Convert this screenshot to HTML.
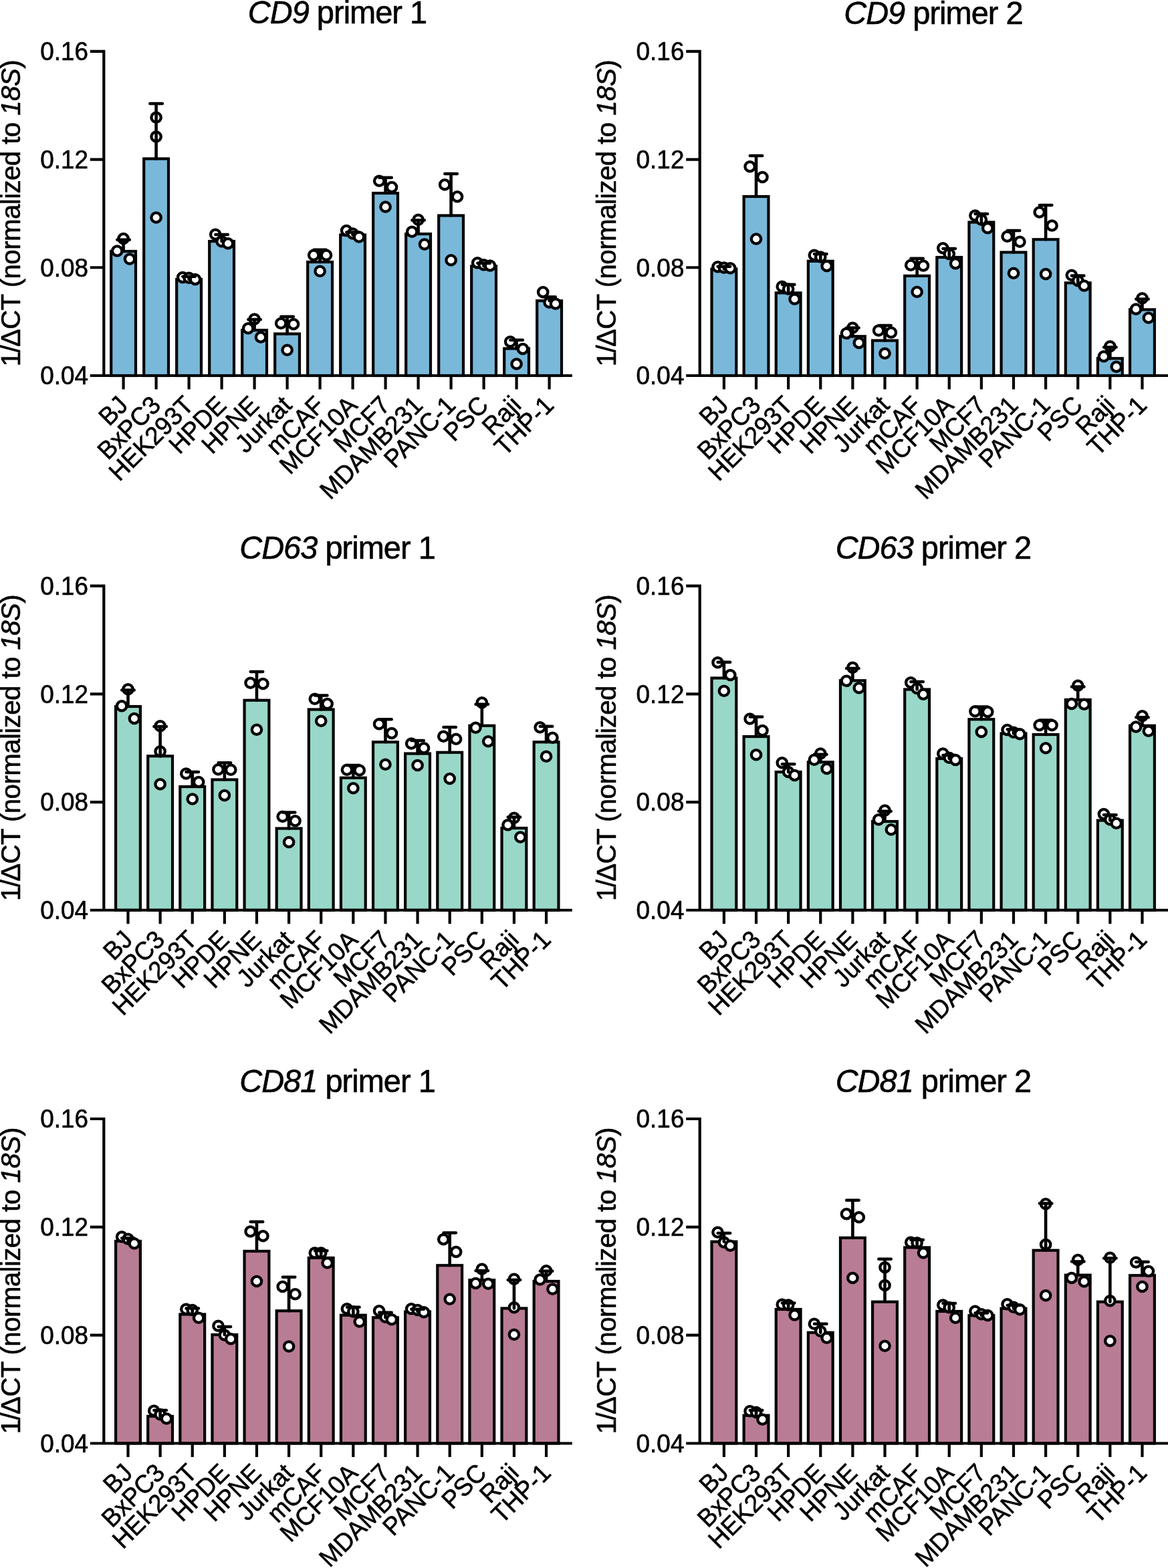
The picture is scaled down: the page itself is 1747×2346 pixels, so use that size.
<!DOCTYPE html>
<html lang="en"><head><meta charset="utf-8"><title>Tetraspanin qPCR</title>
<style>html,body{margin:0;padding:0;background:#fff}svg{display:block}text{font-family:"Liberation Sans",Arial,Helvetica,sans-serif;fill:#000;stroke:#000;stroke-width:0.6px;stroke-linejoin:round}.t{font-size:47px;letter-spacing:-1.0px}.k{font-size:36.9px}.y{font-size:40.3px;letter-spacing:-0.6px}.x{font-size:36.9px}.a{stroke:#000;stroke-width:4.2;fill:none;stroke-linecap:butt}.p{stroke:#000;stroke-width:4.3;fill:#fff}.e{stroke:#000;stroke-width:4.6;fill:none;stroke-linecap:round}</style></head><body>
<svg xmlns="http://www.w3.org/2000/svg" width="1747" height="2346" viewBox="0 0 1747 2346">
<rect width="1747" height="2346" fill="#fff"/>
<g>
<text class="t" transform="translate(504.5 34.7) scale(1 1.04)" text-anchor="middle"><tspan font-style="italic">CD9</tspan> primer 1</text>
<text class="y" transform="translate(29.9 90) rotate(-90) scale(1 1.0)" text-anchor="end">1<tspan dx="-1">/</tspan><tspan dx="-2.1">Δ</tspan>CT (normalized to <tspan font-style="italic">18S</tspan>)</text>
<rect x="166.2" y="376" width="36.8" height="186" fill="#7ab8da" stroke="#000" stroke-width="4.2"/>
<circle class="p" cx="184.6" cy="357" r="7.2"/>
<circle class="p" cx="175.2" cy="375.5" r="7.2"/>
<circle class="p" cx="194" cy="387.5" r="7.2"/>
<path class="e" d="M184.6 376V358.75M175.4 358.75H193.8"/>
<rect x="215.2" y="237.5" width="36.8" height="324.5" fill="#7ab8da" stroke="#000" stroke-width="4.2"/>
<circle class="p" cx="233.6" cy="175.75" r="7.2"/>
<circle class="p" cx="233.6" cy="204.5" r="7.2"/>
<circle class="p" cx="233.6" cy="325.5" r="7.2"/>
<path class="e" d="M233.6 237.5V155M224.4 155H242.8"/>
<rect x="264.2" y="418" width="36.8" height="144" fill="#7ab8da" stroke="#000" stroke-width="4.2"/>
<circle class="p" cx="273.2" cy="415" r="7.2"/>
<circle class="p" cx="282.6" cy="415.75" r="7.2"/>
<circle class="p" cx="292" cy="418" r="7.2"/>
<path class="e" d="M282.6 418V413.75M273.4 413.75H291.8"/>
<rect x="313.2" y="361" width="36.8" height="201" fill="#7ab8da" stroke="#000" stroke-width="4.2"/>
<circle class="p" cx="322.2" cy="350.75" r="7.2"/>
<circle class="p" cx="331.6" cy="361.25" r="7.2"/>
<circle class="p" cx="341" cy="364.25" r="7.2"/>
<path class="e" d="M331.6 361V351M322.4 351H340.8"/>
<rect x="362.2" y="494" width="36.8" height="68" fill="#7ab8da" stroke="#000" stroke-width="4.2"/>
<circle class="p" cx="380.6" cy="477.5" r="7.2"/>
<circle class="p" cx="371.2" cy="491.25" r="7.2"/>
<circle class="p" cx="390" cy="504.5" r="7.2"/>
<path class="e" d="M380.6 494V478M371.4 478H389.8"/>
<rect x="411.2" y="499.5" width="36.8" height="62.5" fill="#7ab8da" stroke="#000" stroke-width="4.2"/>
<circle class="p" cx="420.2" cy="483.75" r="7.2"/>
<circle class="p" cx="439" cy="485" r="7.2"/>
<circle class="p" cx="429.6" cy="523.75" r="7.2"/>
<path class="e" d="M429.6 499.5V473.75M420.4 473.75H438.8"/>
<rect x="460.2" y="392" width="36.8" height="170" fill="#7ab8da" stroke="#000" stroke-width="4.2"/>
<circle class="p" cx="469.2" cy="381.75" r="7.2"/>
<circle class="p" cx="488" cy="381.75" r="7.2"/>
<circle class="p" cx="478.6" cy="405.75" r="7.2"/>
<path class="e" d="M478.6 392V373.75M469.4 373.75H487.8"/>
<rect x="509.2" y="351.5" width="36.8" height="210.5" fill="#7ab8da" stroke="#000" stroke-width="4.2"/>
<circle class="p" cx="518.2" cy="345" r="7.2"/>
<circle class="p" cx="527.6" cy="349.5" r="7.2"/>
<circle class="p" cx="537" cy="354.5" r="7.2"/>
<path class="e" d="M527.6 351.5V347.5M518.4 347.5H536.8"/>
<rect x="558.2" y="289" width="36.8" height="273" fill="#7ab8da" stroke="#000" stroke-width="4.2"/>
<circle class="p" cx="567.2" cy="270.75" r="7.2"/>
<circle class="p" cx="586" cy="280" r="7.2"/>
<circle class="p" cx="576.6" cy="309.5" r="7.2"/>
<path class="e" d="M576.6 289V265.75M567.4 265.75H585.8"/>
<rect x="607.2" y="350" width="36.8" height="212" fill="#7ab8da" stroke="#000" stroke-width="4.2"/>
<circle class="p" cx="625.6" cy="328.75" r="7.2"/>
<circle class="p" cx="616.2" cy="346.75" r="7.2"/>
<circle class="p" cx="635" cy="365.5" r="7.2"/>
<path class="e" d="M625.6 350V329.5M616.4 329.5H634.8"/>
<rect x="656.2" y="322.5" width="36.8" height="239.5" fill="#7ab8da" stroke="#000" stroke-width="4.2"/>
<circle class="p" cx="665.2" cy="276.25" r="7.2"/>
<circle class="p" cx="684" cy="294.25" r="7.2"/>
<circle class="p" cx="674.6" cy="389.25" r="7.2"/>
<path class="e" d="M674.6 322.5V260M665.4 260H683.8"/>
<rect x="705.2" y="398.25" width="36.8" height="163.75" fill="#7ab8da" stroke="#000" stroke-width="4.2"/>
<circle class="p" cx="714.2" cy="393.25" r="7.2"/>
<circle class="p" cx="723.6" cy="396.25" r="7.2"/>
<circle class="p" cx="733" cy="397.5" r="7.2"/>
<path class="e" d="M723.6 398.25V393.75M714.4 393.75H732.8"/>
<rect x="754.2" y="521.5" width="36.8" height="40.5" fill="#7ab8da" stroke="#000" stroke-width="4.2"/>
<circle class="p" cx="763.2" cy="511.25" r="7.2"/>
<circle class="p" cx="782" cy="522" r="7.2"/>
<circle class="p" cx="772.6" cy="544.5" r="7.2"/>
<path class="e" d="M772.6 521.5V508.75M763.4 508.75H781.8"/>
<rect x="803.2" y="450" width="36.8" height="112" fill="#7ab8da" stroke="#000" stroke-width="4.2"/>
<circle class="p" cx="812.2" cy="437" r="7.2"/>
<circle class="p" cx="821.6" cy="452.5" r="7.2"/>
<circle class="p" cx="831" cy="454.5" r="7.2"/>
<path class="e" d="M821.6 450V444.25M812.4 444.25H830.8"/>
<path class="a" d="M155.3 74.7V564.1M134.8 562H855.8M134.8 76.8H155.3M134.8 238.53H155.3M134.8 400.27H155.3M184.6 562V582.5M233.6 562V582.5M282.6 562V582.5M331.6 562V582.5M380.6 562V582.5M429.6 562V582.5M478.6 562V582.5M527.6 562V582.5M576.6 562V582.5M625.6 562V582.5M674.6 562V582.5M723.6 562V582.5M772.6 562V582.5M821.6 562V582.5"/>
<text class="k" transform="translate(132 90.1) scale(1 1.03)" text-anchor="end">0.16</text>
<text class="k" transform="translate(132 251.83) scale(1 1.03)" text-anchor="end">0.12</text>
<text class="k" transform="translate(132 413.57) scale(1 1.03)" text-anchor="end">0.08</text>
<text class="k" transform="translate(132 575.3) scale(1 1.03)" text-anchor="end">0.04</text>
<text class="x" transform="translate(193.6 608.5) rotate(-45) scale(1 1.03)" text-anchor="end">BJ</text>
<text class="x" transform="translate(242.6 608.5) rotate(-45) scale(1 1.03)" text-anchor="end">BxPC3</text>
<text class="x" transform="translate(291.6 608.5) rotate(-45) scale(1 1.03)" text-anchor="end">HEK293T</text>
<text class="x" transform="translate(340.6 608.5) rotate(-45) scale(1 1.03)" text-anchor="end">HPDE</text>
<text class="x" transform="translate(389.6 608.5) rotate(-45) scale(1 1.03)" text-anchor="end">HPNE</text>
<text class="x" transform="translate(438.6 608.5) rotate(-45) scale(1 1.03)" text-anchor="end">Jurkat</text>
<text class="x" transform="translate(487.6 608.5) rotate(-45) scale(1 1.03)" text-anchor="end">mCAF</text>
<text class="x" transform="translate(536.6 608.5) rotate(-45) scale(1 1.03)" text-anchor="end">MCF10A</text>
<text class="x" transform="translate(585.6 608.5) rotate(-45) scale(1 1.03)" text-anchor="end">MCF7</text>
<text class="x" transform="translate(634.6 608.5) rotate(-45) scale(1 1.03)" text-anchor="end">MDAMB231</text>
<text class="x" transform="translate(683.6 608.5) rotate(-45) scale(1 1.03)" text-anchor="end">PANC-1</text>
<text class="x" transform="translate(732.6 608.5) rotate(-45) scale(1 1.03)" text-anchor="end">PSC</text>
<text class="x" transform="translate(781.6 608.5) rotate(-45) scale(1 1.03)" text-anchor="end">Raji</text>
<text class="x" transform="translate(830.6 608.5) rotate(-45) scale(1 1.03)" text-anchor="end">THP-1</text>
</g>
<g>
<text class="t" transform="translate(1395.9 36.4) scale(1 1.04)" text-anchor="middle"><tspan font-style="italic">CD9</tspan> primer 2</text>
<text class="y" transform="translate(921.3 90) rotate(-90) scale(1 1.0)" text-anchor="end">1<tspan dx="-1">/</tspan><tspan dx="-2.1">Δ</tspan>CT (normalized to <tspan font-style="italic">18S</tspan>)</text>
<rect x="1064.5" y="402.5" width="36.8" height="159.5" fill="#7ab8da" stroke="#000" stroke-width="4.2"/>
<circle class="p" cx="1073.5" cy="399.25" r="7.2"/>
<circle class="p" cx="1082.9" cy="400.5" r="7.2"/>
<circle class="p" cx="1092.3" cy="401.25" r="7.2"/>
<path class="e" d="M1082.9 402.5V398.75M1073.7 398.75H1092.1"/>
<rect x="1112.62" y="294" width="36.8" height="268" fill="#7ab8da" stroke="#000" stroke-width="4.2"/>
<circle class="p" cx="1121.62" cy="249.25" r="7.2"/>
<circle class="p" cx="1140.42" cy="265" r="7.2"/>
<circle class="p" cx="1131.02" cy="357.5" r="7.2"/>
<path class="e" d="M1131.02 294V233M1121.82 233H1140.22"/>
<rect x="1160.74" y="438.25" width="36.8" height="123.75" fill="#7ab8da" stroke="#000" stroke-width="4.2"/>
<circle class="p" cx="1169.74" cy="428.75" r="7.2"/>
<circle class="p" cx="1179.14" cy="432.5" r="7.2"/>
<circle class="p" cx="1188.54" cy="447.5" r="7.2"/>
<path class="e" d="M1179.14 438.25V425.75M1169.94 425.75H1188.34"/>
<rect x="1208.86" y="390.75" width="36.8" height="171.25" fill="#7ab8da" stroke="#000" stroke-width="4.2"/>
<circle class="p" cx="1217.86" cy="381.75" r="7.2"/>
<circle class="p" cx="1227.26" cy="384.5" r="7.2"/>
<circle class="p" cx="1236.66" cy="398" r="7.2"/>
<path class="e" d="M1227.26 390.75V380M1218.06 380H1236.46"/>
<rect x="1256.98" y="503.25" width="36.8" height="58.75" fill="#7ab8da" stroke="#000" stroke-width="4.2"/>
<circle class="p" cx="1275.38" cy="490.5" r="7.2"/>
<circle class="p" cx="1265.98" cy="498.75" r="7.2"/>
<circle class="p" cx="1284.78" cy="513" r="7.2"/>
<path class="e" d="M1275.38 503.25V490.5M1266.18 490.5H1284.58"/>
<rect x="1305.1" y="509.5" width="36.8" height="52.5" fill="#7ab8da" stroke="#000" stroke-width="4.2"/>
<circle class="p" cx="1314.1" cy="494.5" r="7.2"/>
<circle class="p" cx="1332.9" cy="497.5" r="7.2"/>
<circle class="p" cx="1323.5" cy="528.75" r="7.2"/>
<path class="e" d="M1323.5 509.5V487M1314.3 487H1332.7"/>
<rect x="1353.22" y="412.75" width="36.8" height="149.25" fill="#7ab8da" stroke="#000" stroke-width="4.2"/>
<circle class="p" cx="1362.22" cy="396.75" r="7.2"/>
<circle class="p" cx="1381.02" cy="397.5" r="7.2"/>
<circle class="p" cx="1371.62" cy="436.75" r="7.2"/>
<path class="e" d="M1371.62 412.75V386.75M1362.42 386.75H1380.82"/>
<rect x="1401.34" y="385" width="36.8" height="177" fill="#7ab8da" stroke="#000" stroke-width="4.2"/>
<circle class="p" cx="1410.34" cy="371.25" r="7.2"/>
<circle class="p" cx="1419.74" cy="380" r="7.2"/>
<circle class="p" cx="1429.14" cy="394.25" r="7.2"/>
<path class="e" d="M1419.74 385V372M1410.54 372H1428.94"/>
<rect x="1449.46" y="332.5" width="36.8" height="229.5" fill="#7ab8da" stroke="#000" stroke-width="4.2"/>
<circle class="p" cx="1458.46" cy="322.5" r="7.2"/>
<circle class="p" cx="1467.86" cy="328.75" r="7.2"/>
<circle class="p" cx="1477.26" cy="341.25" r="7.2"/>
<path class="e" d="M1467.86 332.5V320M1458.66 320H1477.06"/>
<rect x="1497.58" y="377.5" width="36.8" height="184.5" fill="#7ab8da" stroke="#000" stroke-width="4.2"/>
<circle class="p" cx="1506.58" cy="353.75" r="7.2"/>
<circle class="p" cx="1525.38" cy="361.75" r="7.2"/>
<circle class="p" cx="1515.98" cy="408.75" r="7.2"/>
<path class="e" d="M1515.98 377.5V345M1506.78 345H1525.18"/>
<rect x="1545.7" y="358.25" width="36.8" height="203.75" fill="#7ab8da" stroke="#000" stroke-width="4.2"/>
<circle class="p" cx="1554.7" cy="317.5" r="7.2"/>
<circle class="p" cx="1573.5" cy="337.5" r="7.2"/>
<circle class="p" cx="1564.1" cy="410" r="7.2"/>
<path class="e" d="M1564.1 358.25V307M1554.9 307H1573.3"/>
<rect x="1593.82" y="423.25" width="36.8" height="138.75" fill="#7ab8da" stroke="#000" stroke-width="4.2"/>
<circle class="p" cx="1602.82" cy="411.75" r="7.2"/>
<circle class="p" cx="1612.22" cy="420" r="7.2"/>
<circle class="p" cx="1621.62" cy="427.5" r="7.2"/>
<path class="e" d="M1612.22 423.25V412.5M1603.02 412.5H1621.42"/>
<rect x="1641.94" y="536.25" width="36.8" height="25.75" fill="#7ab8da" stroke="#000" stroke-width="4.2"/>
<circle class="p" cx="1660.34" cy="518.25" r="7.2"/>
<circle class="p" cx="1650.94" cy="533.25" r="7.2"/>
<circle class="p" cx="1669.74" cy="548.75" r="7.2"/>
<path class="e" d="M1660.34 536.25V519.5M1651.14 519.5H1669.54"/>
<rect x="1690.06" y="463.25" width="36.8" height="98.75" fill="#7ab8da" stroke="#000" stroke-width="4.2"/>
<circle class="p" cx="1708.46" cy="446.25" r="7.2"/>
<circle class="p" cx="1699.06" cy="462.5" r="7.2"/>
<circle class="p" cx="1717.86" cy="475.5" r="7.2"/>
<path class="e" d="M1708.46 463.25V447.5M1699.26 447.5H1717.66"/>
<path class="a" d="M1046.7 74.7V564.1M1026.2 562H1747.2M1026.2 76.8H1046.7M1026.2 238.53H1046.7M1026.2 400.27H1046.7M1082.9 562V582.5M1131.02 562V582.5M1179.14 562V582.5M1227.26 562V582.5M1275.38 562V582.5M1323.5 562V582.5M1371.62 562V582.5M1419.74 562V582.5M1467.86 562V582.5M1515.98 562V582.5M1564.1 562V582.5M1612.22 562V582.5M1660.34 562V582.5M1708.46 562V582.5"/>
<text class="k" transform="translate(1023.4 90.1) scale(1 1.03)" text-anchor="end">0.16</text>
<text class="k" transform="translate(1023.4 251.83) scale(1 1.03)" text-anchor="end">0.12</text>
<text class="k" transform="translate(1023.4 413.57) scale(1 1.03)" text-anchor="end">0.08</text>
<text class="k" transform="translate(1023.4 575.3) scale(1 1.03)" text-anchor="end">0.04</text>
<text class="x" transform="translate(1091.9 608.5) rotate(-45) scale(1 1.03)" text-anchor="end">BJ</text>
<text class="x" transform="translate(1140.02 608.5) rotate(-45) scale(1 1.03)" text-anchor="end">BxPC3</text>
<text class="x" transform="translate(1188.14 608.5) rotate(-45) scale(1 1.03)" text-anchor="end">HEK293T</text>
<text class="x" transform="translate(1236.26 608.5) rotate(-45) scale(1 1.03)" text-anchor="end">HPDE</text>
<text class="x" transform="translate(1284.38 608.5) rotate(-45) scale(1 1.03)" text-anchor="end">HPNE</text>
<text class="x" transform="translate(1332.5 608.5) rotate(-45) scale(1 1.03)" text-anchor="end">Jurkat</text>
<text class="x" transform="translate(1380.62 608.5) rotate(-45) scale(1 1.03)" text-anchor="end">mCAF</text>
<text class="x" transform="translate(1428.74 608.5) rotate(-45) scale(1 1.03)" text-anchor="end">MCF10A</text>
<text class="x" transform="translate(1476.86 608.5) rotate(-45) scale(1 1.03)" text-anchor="end">MCF7</text>
<text class="x" transform="translate(1524.98 608.5) rotate(-45) scale(1 1.03)" text-anchor="end">MDAMB231</text>
<text class="x" transform="translate(1573.1 608.5) rotate(-45) scale(1 1.03)" text-anchor="end">PANC-1</text>
<text class="x" transform="translate(1621.22 608.5) rotate(-45) scale(1 1.03)" text-anchor="end">PSC</text>
<text class="x" transform="translate(1669.34 608.5) rotate(-45) scale(1 1.03)" text-anchor="end">Raji</text>
<text class="x" transform="translate(1717.46 608.5) rotate(-45) scale(1 1.03)" text-anchor="end">THP-1</text>
</g>
<g>
<text class="t" transform="translate(504.5 836.4) scale(1 1.04)" text-anchor="middle"><tspan font-style="italic">CD63</tspan> primer 1</text>
<text class="y" transform="translate(29.9 889.8) rotate(-90) scale(1 1.0)" text-anchor="end">1<tspan dx="-1">/</tspan><tspan dx="-2.1">Δ</tspan>CT (normalized to <tspan font-style="italic">18S</tspan>)</text>
<rect x="173.1" y="1057" width="36.8" height="304.75" fill="#99d8c9" stroke="#000" stroke-width="4.2"/>
<circle class="p" cx="191.5" cy="1031.25" r="7.2"/>
<circle class="p" cx="182.1" cy="1056.25" r="7.2"/>
<circle class="p" cx="200.9" cy="1075" r="7.2"/>
<path class="e" d="M191.5 1057V1032.5M182.3 1032.5H200.7"/>
<rect x="221.22" y="1131.25" width="36.8" height="230.5" fill="#99d8c9" stroke="#000" stroke-width="4.2"/>
<circle class="p" cx="239.62" cy="1086.25" r="7.2"/>
<circle class="p" cx="239.62" cy="1124.25" r="7.2"/>
<circle class="p" cx="239.62" cy="1173.25" r="7.2"/>
<path class="e" d="M239.62 1131.25V1087M230.42 1087H248.82"/>
<rect x="269.34" y="1177" width="36.8" height="184.75" fill="#99d8c9" stroke="#000" stroke-width="4.2"/>
<circle class="p" cx="278.34" cy="1157.5" r="7.2"/>
<circle class="p" cx="297.14" cy="1170" r="7.2"/>
<circle class="p" cx="287.74" cy="1195.5" r="7.2"/>
<path class="e" d="M287.74 1177V1155M278.54 1155H296.94"/>
<rect x="317.46" y="1166.5" width="36.8" height="195.25" fill="#99d8c9" stroke="#000" stroke-width="4.2"/>
<circle class="p" cx="326.46" cy="1151.25" r="7.2"/>
<circle class="p" cx="345.26" cy="1151.75" r="7.2"/>
<circle class="p" cx="335.86" cy="1190" r="7.2"/>
<path class="e" d="M335.86 1166.5V1141.25M326.66 1141.25H345.06"/>
<rect x="365.58" y="1047.75" width="36.8" height="314" fill="#99d8c9" stroke="#000" stroke-width="4.2"/>
<circle class="p" cx="374.58" cy="1021.75" r="7.2"/>
<circle class="p" cx="393.38" cy="1023" r="7.2"/>
<circle class="p" cx="383.98" cy="1091.75" r="7.2"/>
<path class="e" d="M383.98 1047.75V1005M374.78 1005H393.18"/>
<rect x="413.7" y="1239.5" width="36.8" height="122.25" fill="#99d8c9" stroke="#000" stroke-width="4.2"/>
<circle class="p" cx="422.7" cy="1221.75" r="7.2"/>
<circle class="p" cx="441.5" cy="1228.25" r="7.2"/>
<circle class="p" cx="432.1" cy="1260" r="7.2"/>
<path class="e" d="M432.1 1239.5V1215.5M422.9 1215.5H441.3"/>
<rect x="461.82" y="1061.5" width="36.8" height="300.25" fill="#99d8c9" stroke="#000" stroke-width="4.2"/>
<circle class="p" cx="470.82" cy="1045.75" r="7.2"/>
<circle class="p" cx="489.62" cy="1053" r="7.2"/>
<circle class="p" cx="480.22" cy="1078.75" r="7.2"/>
<path class="e" d="M480.22 1061.5V1040.5M471.02 1040.5H489.42"/>
<rect x="509.94" y="1163.75" width="36.8" height="198" fill="#99d8c9" stroke="#000" stroke-width="4.2"/>
<circle class="p" cx="518.94" cy="1151.75" r="7.2"/>
<circle class="p" cx="537.74" cy="1152.5" r="7.2"/>
<circle class="p" cx="528.34" cy="1179.25" r="7.2"/>
<path class="e" d="M528.34 1163.75V1145M519.14 1145H537.54"/>
<rect x="558.06" y="1110.25" width="36.8" height="251.5" fill="#99d8c9" stroke="#000" stroke-width="4.2"/>
<circle class="p" cx="567.06" cy="1083.25" r="7.2"/>
<circle class="p" cx="585.86" cy="1097" r="7.2"/>
<circle class="p" cx="576.46" cy="1143.75" r="7.2"/>
<path class="e" d="M576.46 1110.25V1076.25M567.26 1076.25H585.66"/>
<rect x="606.18" y="1127.5" width="36.8" height="234.25" fill="#99d8c9" stroke="#000" stroke-width="4.2"/>
<circle class="p" cx="615.18" cy="1112.5" r="7.2"/>
<circle class="p" cx="633.98" cy="1119.25" r="7.2"/>
<circle class="p" cx="624.58" cy="1145" r="7.2"/>
<path class="e" d="M624.58 1127.5V1108M615.38 1108H633.78"/>
<rect x="654.3" y="1125.75" width="36.8" height="236" fill="#99d8c9" stroke="#000" stroke-width="4.2"/>
<circle class="p" cx="663.3" cy="1101.75" r="7.2"/>
<circle class="p" cx="682.1" cy="1105.75" r="7.2"/>
<circle class="p" cx="672.7" cy="1165" r="7.2"/>
<path class="e" d="M672.7 1125.75V1088M663.5 1088H681.9"/>
<rect x="702.42" y="1085.75" width="36.8" height="276" fill="#99d8c9" stroke="#000" stroke-width="4.2"/>
<circle class="p" cx="720.82" cy="1051.25" r="7.2"/>
<circle class="p" cx="711.42" cy="1088.75" r="7.2"/>
<circle class="p" cx="730.22" cy="1109.25" r="7.2"/>
<path class="e" d="M720.82 1085.75V1053.75M711.62 1053.75H730.02"/>
<rect x="750.54" y="1239" width="36.8" height="122.75" fill="#99d8c9" stroke="#000" stroke-width="4.2"/>
<circle class="p" cx="768.94" cy="1223.75" r="7.2"/>
<circle class="p" cx="759.54" cy="1234.25" r="7.2"/>
<circle class="p" cx="778.34" cy="1252.5" r="7.2"/>
<path class="e" d="M768.94 1239V1222.5M759.74 1222.5H778.14"/>
<rect x="798.66" y="1110.25" width="36.8" height="251.5" fill="#99d8c9" stroke="#000" stroke-width="4.2"/>
<circle class="p" cx="807.66" cy="1088.25" r="7.2"/>
<circle class="p" cx="826.46" cy="1103.75" r="7.2"/>
<circle class="p" cx="817.06" cy="1131.75" r="7.2"/>
<path class="e" d="M817.06 1110.25V1086.75M807.86 1086.75H826.26"/>
<path class="a" d="M155.3 874.5V1363.85M134.8 1361.75H855.8M134.8 876.6H155.3M134.8 1038.32H155.3M134.8 1200.03H155.3M191.5 1361.75V1382.25M239.62 1361.75V1382.25M287.74 1361.75V1382.25M335.86 1361.75V1382.25M383.98 1361.75V1382.25M432.1 1361.75V1382.25M480.22 1361.75V1382.25M528.34 1361.75V1382.25M576.46 1361.75V1382.25M624.58 1361.75V1382.25M672.7 1361.75V1382.25M720.82 1361.75V1382.25M768.94 1361.75V1382.25M817.06 1361.75V1382.25"/>
<text class="k" transform="translate(132 889.9) scale(1 1.03)" text-anchor="end">0.16</text>
<text class="k" transform="translate(132 1051.62) scale(1 1.03)" text-anchor="end">0.12</text>
<text class="k" transform="translate(132 1213.33) scale(1 1.03)" text-anchor="end">0.08</text>
<text class="k" transform="translate(132 1375.05) scale(1 1.03)" text-anchor="end">0.04</text>
<text class="x" transform="translate(200.5 1408.25) rotate(-45) scale(1 1.03)" text-anchor="end">BJ</text>
<text class="x" transform="translate(248.62 1408.25) rotate(-45) scale(1 1.03)" text-anchor="end">BxPC3</text>
<text class="x" transform="translate(296.74 1408.25) rotate(-45) scale(1 1.03)" text-anchor="end">HEK293T</text>
<text class="x" transform="translate(344.86 1408.25) rotate(-45) scale(1 1.03)" text-anchor="end">HPDE</text>
<text class="x" transform="translate(392.98 1408.25) rotate(-45) scale(1 1.03)" text-anchor="end">HPNE</text>
<text class="x" transform="translate(441.1 1408.25) rotate(-45) scale(1 1.03)" text-anchor="end">Jurkat</text>
<text class="x" transform="translate(489.22 1408.25) rotate(-45) scale(1 1.03)" text-anchor="end">mCAF</text>
<text class="x" transform="translate(537.34 1408.25) rotate(-45) scale(1 1.03)" text-anchor="end">MCF10A</text>
<text class="x" transform="translate(585.46 1408.25) rotate(-45) scale(1 1.03)" text-anchor="end">MCF7</text>
<text class="x" transform="translate(633.58 1408.25) rotate(-45) scale(1 1.03)" text-anchor="end">MDAMB231</text>
<text class="x" transform="translate(681.7 1408.25) rotate(-45) scale(1 1.03)" text-anchor="end">PANC-1</text>
<text class="x" transform="translate(729.82 1408.25) rotate(-45) scale(1 1.03)" text-anchor="end">PSC</text>
<text class="x" transform="translate(777.94 1408.25) rotate(-45) scale(1 1.03)" text-anchor="end">Raji</text>
<text class="x" transform="translate(826.06 1408.25) rotate(-45) scale(1 1.03)" text-anchor="end">THP-1</text>
</g>
<g>
<text class="t" transform="translate(1395.9 836.4) scale(1 1.04)" text-anchor="middle"><tspan font-style="italic">CD63</tspan> primer 2</text>
<text class="y" transform="translate(921.3 889.8) rotate(-90) scale(1 1.0)" text-anchor="end">1<tspan dx="-1">/</tspan><tspan dx="-2.1">Δ</tspan>CT (normalized to <tspan font-style="italic">18S</tspan>)</text>
<rect x="1064.5" y="1014.5" width="36.8" height="347.25" fill="#99d8c9" stroke="#000" stroke-width="4.2"/>
<circle class="p" cx="1073.5" cy="991.25" r="7.2"/>
<circle class="p" cx="1092.3" cy="1010" r="7.2"/>
<circle class="p" cx="1082.9" cy="1033.75" r="7.2"/>
<path class="e" d="M1082.9 1014.5V990.75M1073.7 990.75H1092.1"/>
<rect x="1112.62" y="1102" width="36.8" height="259.75" fill="#99d8c9" stroke="#000" stroke-width="4.2"/>
<circle class="p" cx="1121.62" cy="1075.5" r="7.2"/>
<circle class="p" cx="1140.42" cy="1093" r="7.2"/>
<circle class="p" cx="1131.02" cy="1129.25" r="7.2"/>
<path class="e" d="M1131.02 1102V1072.5M1121.82 1072.5H1140.22"/>
<rect x="1160.74" y="1155" width="36.8" height="206.75" fill="#99d8c9" stroke="#000" stroke-width="4.2"/>
<circle class="p" cx="1169.74" cy="1141.25" r="7.2"/>
<circle class="p" cx="1179.14" cy="1155" r="7.2"/>
<circle class="p" cx="1188.54" cy="1160" r="7.2"/>
<path class="e" d="M1179.14 1155V1143.25M1169.94 1143.25H1188.34"/>
<rect x="1208.86" y="1140.25" width="36.8" height="221.5" fill="#99d8c9" stroke="#000" stroke-width="4.2"/>
<circle class="p" cx="1227.26" cy="1127.5" r="7.2"/>
<circle class="p" cx="1217.86" cy="1136.75" r="7.2"/>
<circle class="p" cx="1236.66" cy="1150" r="7.2"/>
<path class="e" d="M1227.26 1140.25V1128.75M1218.06 1128.75H1236.46"/>
<rect x="1256.98" y="1018.25" width="36.8" height="343.5" fill="#99d8c9" stroke="#000" stroke-width="4.2"/>
<circle class="p" cx="1275.38" cy="998.75" r="7.2"/>
<circle class="p" cx="1265.98" cy="1018.75" r="7.2"/>
<circle class="p" cx="1284.78" cy="1029.25" r="7.2"/>
<path class="e" d="M1275.38 1018.25V1000M1266.18 1000H1284.58"/>
<rect x="1305.1" y="1229" width="36.8" height="132.75" fill="#99d8c9" stroke="#000" stroke-width="4.2"/>
<circle class="p" cx="1323.5" cy="1212.5" r="7.2"/>
<circle class="p" cx="1314.1" cy="1226.25" r="7.2"/>
<circle class="p" cx="1332.9" cy="1241.25" r="7.2"/>
<path class="e" d="M1323.5 1229V1213.75M1314.3 1213.75H1332.7"/>
<rect x="1353.22" y="1031.5" width="36.8" height="330.25" fill="#99d8c9" stroke="#000" stroke-width="4.2"/>
<circle class="p" cx="1362.22" cy="1021.25" r="7.2"/>
<circle class="p" cx="1371.62" cy="1030" r="7.2"/>
<circle class="p" cx="1381.02" cy="1038.75" r="7.2"/>
<path class="e" d="M1371.62 1031.5V1020M1362.42 1020H1380.82"/>
<rect x="1401.34" y="1135" width="36.8" height="226.75" fill="#99d8c9" stroke="#000" stroke-width="4.2"/>
<circle class="p" cx="1410.34" cy="1127.5" r="7.2"/>
<circle class="p" cx="1419.74" cy="1133.75" r="7.2"/>
<circle class="p" cx="1429.14" cy="1137" r="7.2"/>
<path class="e" d="M1419.74 1135V1130M1410.54 1130H1428.94"/>
<rect x="1449.46" y="1076.25" width="36.8" height="285.5" fill="#99d8c9" stroke="#000" stroke-width="4.2"/>
<circle class="p" cx="1458.46" cy="1064.25" r="7.2"/>
<circle class="p" cx="1477.26" cy="1065" r="7.2"/>
<circle class="p" cx="1467.86" cy="1095" r="7.2"/>
<path class="e" d="M1467.86 1076.25V1057.5M1458.66 1057.5H1477.06"/>
<rect x="1497.58" y="1097.5" width="36.8" height="264.25" fill="#99d8c9" stroke="#000" stroke-width="4.2"/>
<circle class="p" cx="1506.58" cy="1092" r="7.2"/>
<circle class="p" cx="1515.98" cy="1095.75" r="7.2"/>
<circle class="p" cx="1525.38" cy="1098.25" r="7.2"/>
<path class="e" d="M1515.98 1097.5V1091.25M1506.78 1091.25H1525.18"/>
<rect x="1545.7" y="1099" width="36.8" height="262.75" fill="#99d8c9" stroke="#000" stroke-width="4.2"/>
<circle class="p" cx="1554.7" cy="1085" r="7.2"/>
<circle class="p" cx="1573.5" cy="1085" r="7.2"/>
<circle class="p" cx="1564.1" cy="1119.25" r="7.2"/>
<path class="e" d="M1564.1 1099V1077.5M1554.9 1077.5H1573.3"/>
<rect x="1593.82" y="1047" width="36.8" height="314.75" fill="#99d8c9" stroke="#000" stroke-width="4.2"/>
<circle class="p" cx="1612.22" cy="1025.75" r="7.2"/>
<circle class="p" cx="1602.82" cy="1053" r="7.2"/>
<circle class="p" cx="1621.62" cy="1053.75" r="7.2"/>
<path class="e" d="M1612.22 1047V1027.5M1603.02 1027.5H1621.42"/>
<rect x="1641.94" y="1227.5" width="36.8" height="134.25" fill="#99d8c9" stroke="#000" stroke-width="4.2"/>
<circle class="p" cx="1650.94" cy="1218" r="7.2"/>
<circle class="p" cx="1660.34" cy="1226.25" r="7.2"/>
<circle class="p" cx="1669.74" cy="1231.75" r="7.2"/>
<path class="e" d="M1660.34 1227.5V1219.25M1651.14 1219.25H1669.54"/>
<rect x="1690.06" y="1085.75" width="36.8" height="276" fill="#99d8c9" stroke="#000" stroke-width="4.2"/>
<circle class="p" cx="1708.46" cy="1071.25" r="7.2"/>
<circle class="p" cx="1699.06" cy="1087.5" r="7.2"/>
<circle class="p" cx="1717.86" cy="1093.75" r="7.2"/>
<path class="e" d="M1708.46 1085.75V1073.25M1699.26 1073.25H1717.66"/>
<path class="a" d="M1046.7 874.5V1363.85M1026.2 1361.75H1747.2M1026.2 876.6H1046.7M1026.2 1038.32H1046.7M1026.2 1200.03H1046.7M1082.9 1361.75V1382.25M1131.02 1361.75V1382.25M1179.14 1361.75V1382.25M1227.26 1361.75V1382.25M1275.38 1361.75V1382.25M1323.5 1361.75V1382.25M1371.62 1361.75V1382.25M1419.74 1361.75V1382.25M1467.86 1361.75V1382.25M1515.98 1361.75V1382.25M1564.1 1361.75V1382.25M1612.22 1361.75V1382.25M1660.34 1361.75V1382.25M1708.46 1361.75V1382.25"/>
<text class="k" transform="translate(1023.4 889.9) scale(1 1.03)" text-anchor="end">0.16</text>
<text class="k" transform="translate(1023.4 1051.62) scale(1 1.03)" text-anchor="end">0.12</text>
<text class="k" transform="translate(1023.4 1213.33) scale(1 1.03)" text-anchor="end">0.08</text>
<text class="k" transform="translate(1023.4 1375.05) scale(1 1.03)" text-anchor="end">0.04</text>
<text class="x" transform="translate(1091.9 1408.25) rotate(-45) scale(1 1.03)" text-anchor="end">BJ</text>
<text class="x" transform="translate(1140.02 1408.25) rotate(-45) scale(1 1.03)" text-anchor="end">BxPC3</text>
<text class="x" transform="translate(1188.14 1408.25) rotate(-45) scale(1 1.03)" text-anchor="end">HEK293T</text>
<text class="x" transform="translate(1236.26 1408.25) rotate(-45) scale(1 1.03)" text-anchor="end">HPDE</text>
<text class="x" transform="translate(1284.38 1408.25) rotate(-45) scale(1 1.03)" text-anchor="end">HPNE</text>
<text class="x" transform="translate(1332.5 1408.25) rotate(-45) scale(1 1.03)" text-anchor="end">Jurkat</text>
<text class="x" transform="translate(1380.62 1408.25) rotate(-45) scale(1 1.03)" text-anchor="end">mCAF</text>
<text class="x" transform="translate(1428.74 1408.25) rotate(-45) scale(1 1.03)" text-anchor="end">MCF10A</text>
<text class="x" transform="translate(1476.86 1408.25) rotate(-45) scale(1 1.03)" text-anchor="end">MCF7</text>
<text class="x" transform="translate(1524.98 1408.25) rotate(-45) scale(1 1.03)" text-anchor="end">MDAMB231</text>
<text class="x" transform="translate(1573.1 1408.25) rotate(-45) scale(1 1.03)" text-anchor="end">PANC-1</text>
<text class="x" transform="translate(1621.22 1408.25) rotate(-45) scale(1 1.03)" text-anchor="end">PSC</text>
<text class="x" transform="translate(1669.34 1408.25) rotate(-45) scale(1 1.03)" text-anchor="end">Raji</text>
<text class="x" transform="translate(1717.46 1408.25) rotate(-45) scale(1 1.03)" text-anchor="end">THP-1</text>
</g>
<g>
<text class="t" transform="translate(504.5 1633.8) scale(1 1.04)" text-anchor="middle"><tspan font-style="italic">CD81</tspan> primer 1</text>
<text class="y" transform="translate(29.9 1687.2) rotate(-90) scale(1 1.0)" text-anchor="end">1<tspan dx="-1">/</tspan><tspan dx="-2.1">Δ</tspan>CT (normalized to <tspan font-style="italic">18S</tspan>)</text>
<rect x="173.1" y="1857" width="36.8" height="302.5" fill="#b97c95" stroke="#000" stroke-width="4.2"/>
<circle class="p" cx="182.1" cy="1850.5" r="7.2"/>
<circle class="p" cx="191.5" cy="1853.75" r="7.2"/>
<circle class="p" cx="200.9" cy="1860.5" r="7.2"/>
<path class="e" d="M191.5 1857V1852.5M182.3 1852.5H200.7"/>
<rect x="221.22" y="2119" width="36.8" height="40.5" fill="#b97c95" stroke="#000" stroke-width="4.2"/>
<circle class="p" cx="230.22" cy="2110.75" r="7.2"/>
<circle class="p" cx="239.62" cy="2116.25" r="7.2"/>
<circle class="p" cx="249.02" cy="2122.5" r="7.2"/>
<path class="e" d="M239.62 2119V2110M230.42 2110H248.82"/>
<rect x="269.34" y="1966.5" width="36.8" height="193" fill="#b97c95" stroke="#000" stroke-width="4.2"/>
<circle class="p" cx="278.34" cy="1958.75" r="7.2"/>
<circle class="p" cx="287.74" cy="1960" r="7.2"/>
<circle class="p" cx="297.14" cy="1971.75" r="7.2"/>
<path class="e" d="M287.74 1966.5V1957.5M278.54 1957.5H296.94"/>
<rect x="317.46" y="1997" width="36.8" height="162.5" fill="#b97c95" stroke="#000" stroke-width="4.2"/>
<circle class="p" cx="326.46" cy="1983.75" r="7.2"/>
<circle class="p" cx="335.86" cy="1997.5" r="7.2"/>
<circle class="p" cx="345.26" cy="2003.25" r="7.2"/>
<path class="e" d="M335.86 1997V1985M326.66 1985H345.06"/>
<rect x="365.58" y="1872" width="36.8" height="287.5" fill="#b97c95" stroke="#000" stroke-width="4.2"/>
<circle class="p" cx="374.58" cy="1842.5" r="7.2"/>
<circle class="p" cx="393.38" cy="1849.25" r="7.2"/>
<circle class="p" cx="383.98" cy="1917" r="7.2"/>
<path class="e" d="M383.98 1872V1828M374.78 1828H393.18"/>
<rect x="413.7" y="1961.25" width="36.8" height="198.25" fill="#b97c95" stroke="#000" stroke-width="4.2"/>
<circle class="p" cx="422.7" cy="1925" r="7.2"/>
<circle class="p" cx="441.5" cy="1936.25" r="7.2"/>
<circle class="p" cx="432.1" cy="2014.5" r="7.2"/>
<path class="e" d="M432.1 1961.25V1910.75M422.9 1910.75H441.3"/>
<rect x="461.82" y="1882" width="36.8" height="277.5" fill="#b97c95" stroke="#000" stroke-width="4.2"/>
<circle class="p" cx="470.82" cy="1874.5" r="7.2"/>
<circle class="p" cx="480.22" cy="1874.5" r="7.2"/>
<circle class="p" cx="489.62" cy="1889.5" r="7.2"/>
<path class="e" d="M480.22 1882V1871.25M471.02 1871.25H489.42"/>
<rect x="509.94" y="1967.75" width="36.8" height="191.75" fill="#b97c95" stroke="#000" stroke-width="4.2"/>
<circle class="p" cx="518.94" cy="1958.25" r="7.2"/>
<circle class="p" cx="528.34" cy="1962.5" r="7.2"/>
<circle class="p" cx="537.74" cy="1977.5" r="7.2"/>
<path class="e" d="M528.34 1967.75V1955.75M519.14 1955.75H537.54"/>
<rect x="558.06" y="1971.25" width="36.8" height="188.25" fill="#b97c95" stroke="#000" stroke-width="4.2"/>
<circle class="p" cx="567.06" cy="1961.25" r="7.2"/>
<circle class="p" cx="576.46" cy="1970.75" r="7.2"/>
<circle class="p" cx="585.86" cy="1974.25" r="7.2"/>
<path class="e" d="M576.46 1971.25V1963.75M567.26 1963.75H585.66"/>
<rect x="606.18" y="1962.5" width="36.8" height="197" fill="#b97c95" stroke="#000" stroke-width="4.2"/>
<circle class="p" cx="615.18" cy="1958.25" r="7.2"/>
<circle class="p" cx="624.58" cy="1960" r="7.2"/>
<circle class="p" cx="633.98" cy="1963.25" r="7.2"/>
<path class="e" d="M624.58 1962.5V1958.75M615.38 1958.75H633.78"/>
<rect x="654.3" y="1893.25" width="36.8" height="266.25" fill="#b97c95" stroke="#000" stroke-width="4.2"/>
<circle class="p" cx="663.3" cy="1854.25" r="7.2"/>
<circle class="p" cx="682.1" cy="1873" r="7.2"/>
<circle class="p" cx="672.7" cy="1943.75" r="7.2"/>
<path class="e" d="M672.7 1893.25V1844.5M663.5 1844.5H681.9"/>
<rect x="702.42" y="1915.25" width="36.8" height="244.25" fill="#b97c95" stroke="#000" stroke-width="4.2"/>
<circle class="p" cx="720.82" cy="1898.75" r="7.2"/>
<circle class="p" cx="711.42" cy="1920" r="7.2"/>
<circle class="p" cx="730.22" cy="1920.75" r="7.2"/>
<path class="e" d="M720.82 1915.25V1901.25M711.62 1901.25H730.02"/>
<rect x="750.54" y="1957.5" width="36.8" height="202" fill="#b97c95" stroke="#000" stroke-width="4.2"/>
<circle class="p" cx="768.94" cy="1913.75" r="7.2"/>
<circle class="p" cx="768.94" cy="1956.25" r="7.2"/>
<circle class="p" cx="768.94" cy="1996.75" r="7.2"/>
<path class="e" d="M768.94 1957.5V1915M759.74 1915H778.14"/>
<rect x="798.66" y="1917" width="36.8" height="242.5" fill="#b97c95" stroke="#000" stroke-width="4.2"/>
<circle class="p" cx="817.06" cy="1901.25" r="7.2"/>
<circle class="p" cx="807.66" cy="1914.5" r="7.2"/>
<circle class="p" cx="826.46" cy="1928.75" r="7.2"/>
<path class="e" d="M817.06 1917V1901.75M807.86 1901.75H826.26"/>
<path class="a" d="M155.3 1671.9V2161.6M134.8 2159.5H855.8M134.8 1674H155.3M134.8 1835.83H155.3M134.8 1997.67H155.3M191.5 2159.5V2180M239.62 2159.5V2180M287.74 2159.5V2180M335.86 2159.5V2180M383.98 2159.5V2180M432.1 2159.5V2180M480.22 2159.5V2180M528.34 2159.5V2180M576.46 2159.5V2180M624.58 2159.5V2180M672.7 2159.5V2180M720.82 2159.5V2180M768.94 2159.5V2180M817.06 2159.5V2180"/>
<text class="k" transform="translate(132 1687.3) scale(1 1.03)" text-anchor="end">0.16</text>
<text class="k" transform="translate(132 1849.13) scale(1 1.03)" text-anchor="end">0.12</text>
<text class="k" transform="translate(132 2010.97) scale(1 1.03)" text-anchor="end">0.08</text>
<text class="k" transform="translate(132 2172.8) scale(1 1.03)" text-anchor="end">0.04</text>
<text class="x" transform="translate(200.5 2206) rotate(-45) scale(1 1.03)" text-anchor="end">BJ</text>
<text class="x" transform="translate(248.62 2206) rotate(-45) scale(1 1.03)" text-anchor="end">BxPC3</text>
<text class="x" transform="translate(296.74 2206) rotate(-45) scale(1 1.03)" text-anchor="end">HEK293T</text>
<text class="x" transform="translate(344.86 2206) rotate(-45) scale(1 1.03)" text-anchor="end">HPDE</text>
<text class="x" transform="translate(392.98 2206) rotate(-45) scale(1 1.03)" text-anchor="end">HPNE</text>
<text class="x" transform="translate(441.1 2206) rotate(-45) scale(1 1.03)" text-anchor="end">Jurkat</text>
<text class="x" transform="translate(489.22 2206) rotate(-45) scale(1 1.03)" text-anchor="end">mCAF</text>
<text class="x" transform="translate(537.34 2206) rotate(-45) scale(1 1.03)" text-anchor="end">MCF10A</text>
<text class="x" transform="translate(585.46 2206) rotate(-45) scale(1 1.03)" text-anchor="end">MCF7</text>
<text class="x" transform="translate(633.58 2206) rotate(-45) scale(1 1.03)" text-anchor="end">MDAMB231</text>
<text class="x" transform="translate(681.7 2206) rotate(-45) scale(1 1.03)" text-anchor="end">PANC-1</text>
<text class="x" transform="translate(729.82 2206) rotate(-45) scale(1 1.03)" text-anchor="end">PSC</text>
<text class="x" transform="translate(777.94 2206) rotate(-45) scale(1 1.03)" text-anchor="end">Raji</text>
<text class="x" transform="translate(826.06 2206) rotate(-45) scale(1 1.03)" text-anchor="end">THP-1</text>
</g>
<g>
<text class="t" transform="translate(1395.9 1633.8) scale(1 1.04)" text-anchor="middle"><tspan font-style="italic">CD81</tspan> primer 2</text>
<text class="y" transform="translate(921.3 1687.2) rotate(-90) scale(1 1.0)" text-anchor="end">1<tspan dx="-1">/</tspan><tspan dx="-2.1">Δ</tspan>CT (normalized to <tspan font-style="italic">18S</tspan>)</text>
<rect x="1064.5" y="1857.75" width="36.8" height="301.75" fill="#b97c95" stroke="#000" stroke-width="4.2"/>
<circle class="p" cx="1073.5" cy="1843.75" r="7.2"/>
<circle class="p" cx="1082.9" cy="1858.75" r="7.2"/>
<circle class="p" cx="1092.3" cy="1863.75" r="7.2"/>
<path class="e" d="M1082.9 1857.75V1845M1073.7 1845H1092.1"/>
<rect x="1112.62" y="2117.75" width="36.8" height="41.75" fill="#b97c95" stroke="#000" stroke-width="4.2"/>
<circle class="p" cx="1121.62" cy="2111.25" r="7.2"/>
<circle class="p" cx="1131.02" cy="2113" r="7.2"/>
<circle class="p" cx="1140.42" cy="2123.75" r="7.2"/>
<path class="e" d="M1131.02 2117.75V2110M1121.82 2110H1140.22"/>
<rect x="1160.74" y="1959" width="36.8" height="200.5" fill="#b97c95" stroke="#000" stroke-width="4.2"/>
<circle class="p" cx="1169.74" cy="1951.75" r="7.2"/>
<circle class="p" cx="1179.14" cy="1952.5" r="7.2"/>
<circle class="p" cx="1188.54" cy="1967.5" r="7.2"/>
<path class="e" d="M1179.14 1959V1949.5M1169.94 1949.5H1188.34"/>
<rect x="1208.86" y="1993.75" width="36.8" height="165.75" fill="#b97c95" stroke="#000" stroke-width="4.2"/>
<circle class="p" cx="1217.86" cy="1980.75" r="7.2"/>
<circle class="p" cx="1227.26" cy="1991.75" r="7.2"/>
<circle class="p" cx="1236.66" cy="2001.75" r="7.2"/>
<path class="e" d="M1227.26 1993.75V1980.75M1218.06 1980.75H1236.46"/>
<rect x="1256.98" y="1852" width="36.8" height="307.5" fill="#b97c95" stroke="#000" stroke-width="4.2"/>
<circle class="p" cx="1265.98" cy="1816.25" r="7.2"/>
<circle class="p" cx="1284.78" cy="1821.25" r="7.2"/>
<circle class="p" cx="1275.38" cy="1912" r="7.2"/>
<path class="e" d="M1275.38 1852V1795.75M1266.18 1795.75H1284.58"/>
<rect x="1305.1" y="1947.75" width="36.8" height="211.75" fill="#b97c95" stroke="#000" stroke-width="4.2"/>
<circle class="p" cx="1323.5" cy="1896.25" r="7.2"/>
<circle class="p" cx="1323.5" cy="1923" r="7.2"/>
<circle class="p" cx="1323.5" cy="2013.75" r="7.2"/>
<path class="e" d="M1323.5 1947.75V1883.75M1314.3 1883.75H1332.7"/>
<rect x="1353.22" y="1866.5" width="36.8" height="293" fill="#b97c95" stroke="#000" stroke-width="4.2"/>
<circle class="p" cx="1362.22" cy="1858.75" r="7.2"/>
<circle class="p" cx="1371.62" cy="1859.5" r="7.2"/>
<circle class="p" cx="1381.02" cy="1874.5" r="7.2"/>
<path class="e" d="M1371.62 1866.5V1855M1362.42 1855H1380.82"/>
<rect x="1401.34" y="1962" width="36.8" height="197.5" fill="#b97c95" stroke="#000" stroke-width="4.2"/>
<circle class="p" cx="1410.34" cy="1952.5" r="7.2"/>
<circle class="p" cx="1419.74" cy="1956.25" r="7.2"/>
<circle class="p" cx="1429.14" cy="1971.75" r="7.2"/>
<path class="e" d="M1419.74 1962V1950M1410.54 1950H1428.94"/>
<rect x="1449.46" y="1968.25" width="36.8" height="191.25" fill="#b97c95" stroke="#000" stroke-width="4.2"/>
<circle class="p" cx="1458.46" cy="1961.75" r="7.2"/>
<circle class="p" cx="1467.86" cy="1966.25" r="7.2"/>
<circle class="p" cx="1477.26" cy="1968" r="7.2"/>
<path class="e" d="M1467.86 1968.25V1964.5M1458.66 1964.5H1477.06"/>
<rect x="1497.58" y="1957.75" width="36.8" height="201.75" fill="#b97c95" stroke="#000" stroke-width="4.2"/>
<circle class="p" cx="1506.58" cy="1951.25" r="7.2"/>
<circle class="p" cx="1515.98" cy="1955.75" r="7.2"/>
<circle class="p" cx="1525.38" cy="1959.25" r="7.2"/>
<path class="e" d="M1515.98 1957.75V1953M1506.78 1953H1525.18"/>
<rect x="1545.7" y="1870.75" width="36.8" height="288.75" fill="#b97c95" stroke="#000" stroke-width="4.2"/>
<circle class="p" cx="1564.1" cy="1801.25" r="7.2"/>
<circle class="p" cx="1564.1" cy="1862" r="7.2"/>
<circle class="p" cx="1564.1" cy="1938.25" r="7.2"/>
<path class="e" d="M1564.1 1870.75V1800.5M1554.9 1800.5H1573.3"/>
<rect x="1593.82" y="1907.75" width="36.8" height="251.75" fill="#b97c95" stroke="#000" stroke-width="4.2"/>
<circle class="p" cx="1612.22" cy="1885" r="7.2"/>
<circle class="p" cx="1602.82" cy="1912" r="7.2"/>
<circle class="p" cx="1621.62" cy="1917.5" r="7.2"/>
<path class="e" d="M1612.22 1907.75V1887.5M1603.02 1887.5H1621.42"/>
<rect x="1641.94" y="1947.75" width="36.8" height="211.75" fill="#b97c95" stroke="#000" stroke-width="4.2"/>
<circle class="p" cx="1660.34" cy="1881.75" r="7.2"/>
<circle class="p" cx="1660.34" cy="1946.25" r="7.2"/>
<circle class="p" cx="1660.34" cy="2006.25" r="7.2"/>
<path class="e" d="M1660.34 1947.75V1882.5M1651.14 1882.5H1669.54"/>
<rect x="1690.06" y="1908.25" width="36.8" height="251.25" fill="#b97c95" stroke="#000" stroke-width="4.2"/>
<circle class="p" cx="1699.06" cy="1888.75" r="7.2"/>
<circle class="p" cx="1717.86" cy="1902" r="7.2"/>
<circle class="p" cx="1708.46" cy="1925" r="7.2"/>
<path class="e" d="M1708.46 1908.25V1888M1699.26 1888H1717.66"/>
<path class="a" d="M1046.7 1671.9V2161.6M1026.2 2159.5H1747.2M1026.2 1674H1046.7M1026.2 1835.83H1046.7M1026.2 1997.67H1046.7M1082.9 2159.5V2180M1131.02 2159.5V2180M1179.14 2159.5V2180M1227.26 2159.5V2180M1275.38 2159.5V2180M1323.5 2159.5V2180M1371.62 2159.5V2180M1419.74 2159.5V2180M1467.86 2159.5V2180M1515.98 2159.5V2180M1564.1 2159.5V2180M1612.22 2159.5V2180M1660.34 2159.5V2180M1708.46 2159.5V2180"/>
<text class="k" transform="translate(1023.4 1687.3) scale(1 1.03)" text-anchor="end">0.16</text>
<text class="k" transform="translate(1023.4 1849.13) scale(1 1.03)" text-anchor="end">0.12</text>
<text class="k" transform="translate(1023.4 2010.97) scale(1 1.03)" text-anchor="end">0.08</text>
<text class="k" transform="translate(1023.4 2172.8) scale(1 1.03)" text-anchor="end">0.04</text>
<text class="x" transform="translate(1091.9 2206) rotate(-45) scale(1 1.03)" text-anchor="end">BJ</text>
<text class="x" transform="translate(1140.02 2206) rotate(-45) scale(1 1.03)" text-anchor="end">BxPC3</text>
<text class="x" transform="translate(1188.14 2206) rotate(-45) scale(1 1.03)" text-anchor="end">HEK293T</text>
<text class="x" transform="translate(1236.26 2206) rotate(-45) scale(1 1.03)" text-anchor="end">HPDE</text>
<text class="x" transform="translate(1284.38 2206) rotate(-45) scale(1 1.03)" text-anchor="end">HPNE</text>
<text class="x" transform="translate(1332.5 2206) rotate(-45) scale(1 1.03)" text-anchor="end">Jurkat</text>
<text class="x" transform="translate(1380.62 2206) rotate(-45) scale(1 1.03)" text-anchor="end">mCAF</text>
<text class="x" transform="translate(1428.74 2206) rotate(-45) scale(1 1.03)" text-anchor="end">MCF10A</text>
<text class="x" transform="translate(1476.86 2206) rotate(-45) scale(1 1.03)" text-anchor="end">MCF7</text>
<text class="x" transform="translate(1524.98 2206) rotate(-45) scale(1 1.03)" text-anchor="end">MDAMB231</text>
<text class="x" transform="translate(1573.1 2206) rotate(-45) scale(1 1.03)" text-anchor="end">PANC-1</text>
<text class="x" transform="translate(1621.22 2206) rotate(-45) scale(1 1.03)" text-anchor="end">PSC</text>
<text class="x" transform="translate(1669.34 2206) rotate(-45) scale(1 1.03)" text-anchor="end">Raji</text>
<text class="x" transform="translate(1717.46 2206) rotate(-45) scale(1 1.03)" text-anchor="end">THP-1</text>
</g>
</svg></body></html>
